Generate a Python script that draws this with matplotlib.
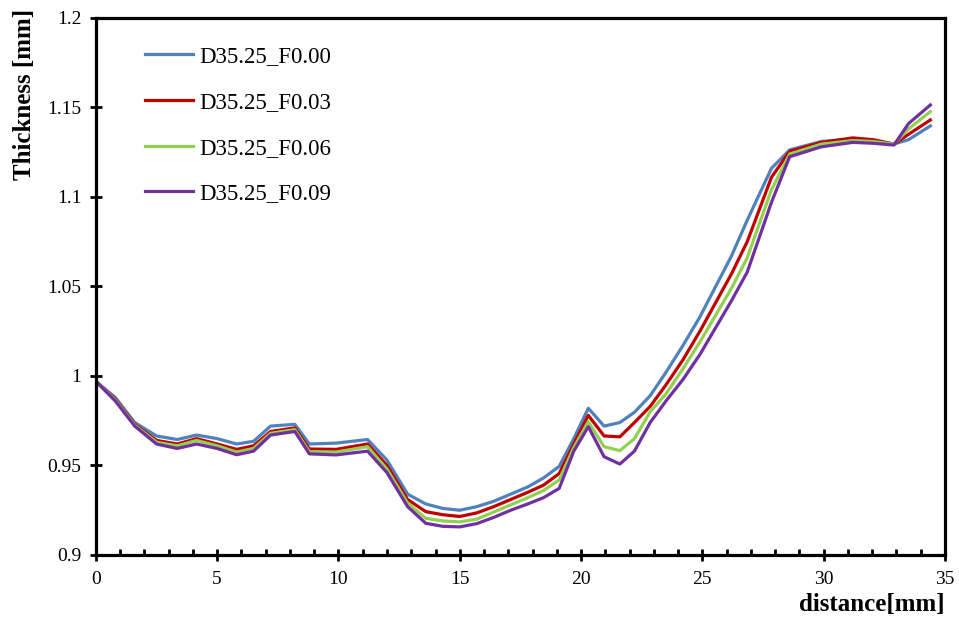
import matplotlib
matplotlib.use("Agg")
import matplotlib.pyplot as plt
from matplotlib.ticker import MultipleLocator

# distance [mm]
distance = [0.0, 0.8, 1.6, 2.5, 3.35, 4.15, 5.0, 5.8, 6.5, 7.2, 8.2, 8.8, 9.9, 11.2,
            12.0, 12.85, 13.6, 14.3, 15.0, 15.7, 16.4, 17.1, 17.8, 18.45, 19.1, 19.7,
            20.3, 20.95, 21.6, 22.2, 22.85, 23.5, 24.2, 24.9, 25.55, 26.2, 26.85,
            27.85, 28.6, 29.9, 31.2, 32.05, 32.9, 33.5, 34.4]

f000 = [0.997, 0.988, 0.974, 0.9665, 0.9645, 0.967, 0.965, 0.962, 0.9635, 0.972, 0.973,
        0.962, 0.9625, 0.9645, 0.953, 0.934, 0.9285, 0.926, 0.925, 0.927, 0.930, 0.934,
        0.938, 0.943, 0.9495, 0.965, 0.982, 0.972, 0.974, 0.9797, 0.989, 1.002, 1.017,
        1.033, 1.050, 1.067, 1.087, 1.116, 1.1263, 1.131, 1.1322, 1.1315, 1.1296,
        1.132, 1.1397]

f003 = [0.997, 0.987, 0.973, 0.964, 0.962, 0.965, 0.962, 0.959, 0.961, 0.969, 0.971,
        0.9592, 0.959, 0.962, 0.950, 0.931, 0.9242, 0.9225, 0.9215, 0.9235, 0.927, 0.931,
        0.935, 0.939, 0.9455, 0.962, 0.978, 0.9665, 0.966, 0.974, 0.983, 0.995, 1.009,
        1.025, 1.041, 1.057, 1.075, 1.111, 1.1255, 1.1305, 1.133, 1.132, 1.1295,
        1.135, 1.143]

f006 = [0.997, 0.9865, 0.9725, 0.963, 0.961, 0.964, 0.961, 0.9575, 0.9595, 0.968, 0.970,
        0.9577, 0.9575, 0.9605, 0.948, 0.929, 0.9205, 0.919, 0.9185, 0.920, 0.924, 0.928,
        0.932, 0.936, 0.9419, 0.960, 0.9745, 0.9605, 0.9583, 0.965, 0.980, 0.990, 1.004,
        1.019, 1.034, 1.049, 1.066, 1.104, 1.124, 1.1295, 1.1315, 1.131, 1.1295,
        1.138, 1.1477]

f009 = [0.997, 0.986, 0.972, 0.962, 0.9595, 0.962, 0.9595, 0.956, 0.958, 0.967, 0.969,
        0.9565, 0.9559, 0.958, 0.946, 0.927, 0.9177, 0.916, 0.9157, 0.9175, 0.921, 0.925,
        0.9285, 0.932, 0.9372, 0.958, 0.9717, 0.9549, 0.9508, 0.958, 0.974, 0.986, 0.998,
        1.012, 1.027, 1.042, 1.058, 1.097, 1.1225, 1.128, 1.1305, 1.130, 1.129,
        1.141, 1.1514]

series = [("D35.25_F0.00", f000, "#4F81BD"),
          ("D35.25_F0.03", f003, "#C00000"),
          ("D35.25_F0.06", f006, "#92D050"),
          ("D35.25_F0.09", f009, "#7030A0")]

x_ticks = [0, 5, 10, 15, 20, 25, 30, 35]
y_ticks = [0.9, 0.95, 1.0, 1.05, 1.1, 1.15, 1.2]
y_tick_labels = ["0.9", "0.95", "1", "1.05", "1.1", "1.15", "1.2"]

plt.rcParams['font.family'] = ['Liberation Serif', 'DejaVu Serif']

fig = plt.figure(figsize=(9.59, 6.24), dpi=100)
ax = fig.add_axes([0.1, 0.1106, 0.8853, 0.8606])

for label, vals, color in series:
    ax.plot(distance, vals, color=color, lw=2.3, label=label, solid_joinstyle='round')

ax.set_xlim(0, 35)
ax.set_ylim(0.9, 1.2)
ax.set_xticks(x_ticks)
ax.set_xticklabels([str(v) for v in x_ticks])
ax.set_yticks(y_ticks)
ax.set_yticklabels(y_tick_labels)
ax.xaxis.set_minor_locator(MultipleLocator(1))

for sp in ax.spines.values():
    sp.set_linewidth(2.3)
    sp.set_color('black')

ax.tick_params(axis='both', which='major', direction='inout', length=9, width=2,
               labelsize=14, colors='black')
ax.tick_params(axis='x', which='major', pad=7)
ax.tick_params(axis='y', which='major', pad=6)
ax.tick_params(axis='x', which='minor', direction='in', length=4, width=2)

ax.set_ylabel("Thickness [mm]", fontsize=18, fontweight='bold')
ax.yaxis.set_label_coords(-0.07, 0.857)
ax.set_xlabel("distance[mm]", fontsize=18, fontweight='bold', loc='right')
ax.xaxis.set_label_coords(1.0, -0.07)

ax.legend(loc='upper left', bbox_to_anchor=(0.047, 0.965), frameon=False, fontsize=16.5,
          handlelength=2.1, handletextpad=0.25, labelspacing=1.08, borderaxespad=0)

fig.savefig("out.png", dpi=100)
